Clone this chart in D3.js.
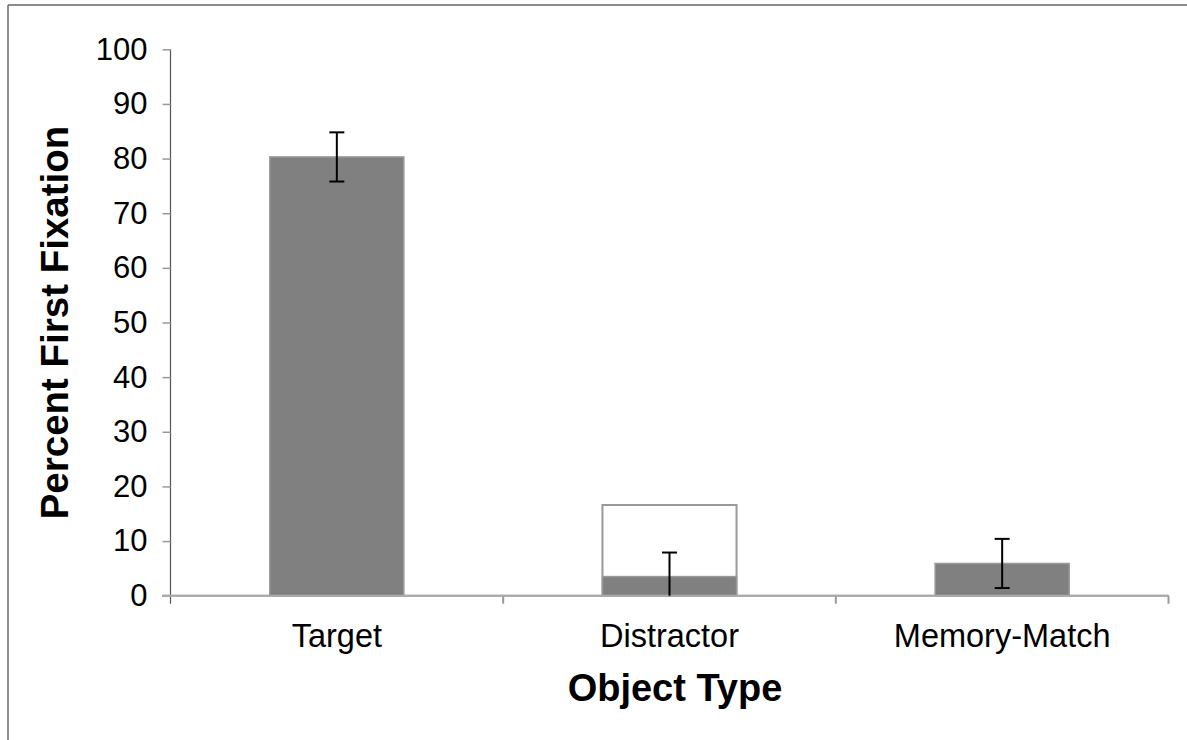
<!DOCTYPE html>
<html>
<head>
<meta charset="utf-8">
<script src="https://cdn.jsdelivr.net/npm/d3@7"></script>
<style>
  html, body { margin: 0; padding: 0; background: #fff; }
  svg { display: block; }
  text { font-family: "Liberation Sans", Arial, Helvetica, sans-serif; fill: #000; }
</style>
</head>
<body>
<svg id="chart" width="1187" height="740"></svg>
<script>
// ---- data ----
const categories = ["Target", "Distractor", "Memory-Match"];
const values = [80.3, 3.5, 5.9];            // filled bars (percent first fixation)
const errors = [4.5, 4.4, 4.5];             // error bar half-widths
const outlineValues = [null, 16.6, null];   // open (white) comparison bar
const yTicks = [0, 10, 20, 30, 40, 50, 60, 70, 80, 90, 100];
const yTitle = "Percent First Fixation";
const xTitle = "Object Type";

// ---- layout ----
const W = 1187, H = 740;
const svg = d3.select("#chart");

// outer frame (top and left edges)
svg.append("line").attr("x1", 8).attr("y1", 5).attr("x2", W).attr("y2", 5)
  .attr("stroke", "#666").attr("stroke-width", 1.5);
svg.append("line").attr("x1", 8).attr("y1", 5).attr("x2", 8).attr("y2", H)
  .attr("stroke", "#666").attr("stroke-width", 1.5);

const x = d3.scaleBand().domain(categories).range([170.5, 1168.5]).paddingInner(0).paddingOuter(0);
const y = d3.scaleLinear().domain([0, 100]).range([595.7, 49.3]);
const barW = x.bandwidth() * 0.403;

// y axis
const yAxis = d3.axisLeft(y).tickValues(yTicks).tickSize(8).tickPadding(15).tickSizeOuter(0);
const gy = svg.append("g").attr("transform", "translate(170.5,0)").call(yAxis);
gy.select(".domain").attr("stroke", "#555").attr("stroke-width", 1.2)
  .attr("d", `M0,${y(100)}V${y(0) + 8}`);
gy.selectAll(".tick line").attr("stroke", "#999").attr("stroke-width", 1.5);
gy.selectAll(".tick text").attr("font-size", 31).attr("fill", "#000")
  .attr("font-family", "'Liberation Sans', Arial, Helvetica, sans-serif");

// x axis (baseline + boundary ticks)
const gx = svg.append("g");
gx.append("line").attr("x1", 162).attr("x2", x.range()[1]).attr("y1", y(0)).attr("y2", y(0))
  .attr("stroke", "#aaa").attr("stroke-width", 2);
const boundaries = categories.map(c => x(c)).concat([x.range()[1]]).slice(1);
gx.selectAll("line.bt").data(boundaries).join("line").attr("class", "bt")
  .attr("x1", d => d).attr("x2", d => d).attr("y1", y(0)).attr("y2", y(0) + 8)
  .attr("stroke", "#999").attr("stroke-width", 2);
gx.selectAll("text.cat").data(categories).join("text").attr("class", "cat")
  .attr("x", d => x(d) + x.bandwidth() / 2).attr("y", 647)
  .attr("text-anchor", "middle").attr("font-size", 32.5).text(d => d);

// open comparison bars
const data = categories.map((c, i) => ({ c, v: values[i], e: errors[i], o: outlineValues[i] }));
svg.selectAll("rect.open").data(data.filter(d => d.o != null)).join("rect").attr("class", "open")
  .attr("x", d => x(d.c) + x.bandwidth() / 2 - barW / 2)
  .attr("y", d => y(d.o))
  .attr("width", barW).attr("height", d => y(0) - y(d.o))
  .attr("fill", "#fff").attr("stroke", "#999").attr("stroke-width", 2);

// filled bars
svg.selectAll("rect.bar").data(data).join("rect").attr("class", "bar")
  .attr("x", d => x(d.c) + x.bandwidth() / 2 - barW / 2)
  .attr("y", d => y(d.v))
  .attr("width", barW).attr("height", d => y(0) - y(d.v))
  .attr("fill", "#808080").attr("stroke", "#999").attr("stroke-width", 1.5);

// redraw baseline on top of bars
svg.append("line").attr("x1", 162).attr("x2", x.range()[1]).attr("y1", y(0)).attr("y2", y(0))
  .attr("stroke", "#aaa").attr("stroke-width", 2);

// error bars
const capW = 15;
const eb = svg.selectAll("g.err").data(data).join("g").attr("class", "err")
  .attr("transform", d => `translate(${x(d.c) + x.bandwidth() / 2},0)`);
eb.append("line").attr("x1", 0).attr("x2", 0)
  .attr("y1", d => y(Math.max(0, d.v - d.e))).attr("y2", d => y(d.v + d.e))
  .attr("stroke", "#000").attr("stroke-width", 2);
eb.append("line").attr("x1", -capW / 2).attr("x2", capW / 2)
  .attr("y1", d => y(d.v + d.e)).attr("y2", d => y(d.v + d.e))
  .attr("stroke", "#000").attr("stroke-width", 2);
eb.filter(d => d.v - d.e > 0).append("line").attr("x1", -capW / 2).attr("x2", capW / 2)
  .attr("y1", d => y(d.v - d.e)).attr("y2", d => y(d.v - d.e))
  .attr("stroke", "#000").attr("stroke-width", 2);

// titles
svg.append("text").attr("x", 675).attr("y", 701)
  .attr("text-anchor", "middle").attr("font-size", 38).attr("font-weight", "bold").text(xTitle);
svg.append("text").attr("transform", `translate(68,${(y(0) + y(100)) / 2}) rotate(-90)`)
  .attr("text-anchor", "middle").attr("font-size", 38.5).attr("font-weight", "bold").text(yTitle);
</script>
</body>
</html>
